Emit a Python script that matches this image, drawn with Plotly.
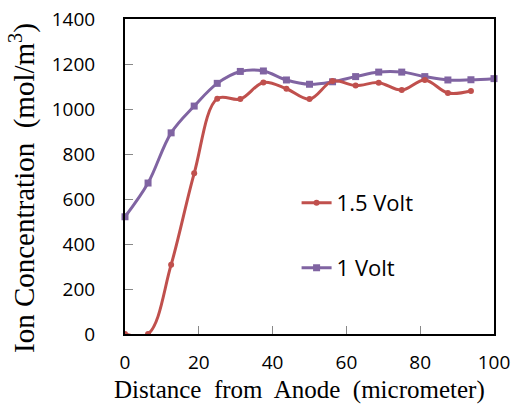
import plotly.graph_objects as go

# Data
x_1v = [0, 6.25, 12.5, 18.75, 25, 31.25, 37.5, 43.75, 50, 56.25, 62.5, 68.75, 75, 81.25, 87.5, 93.75, 100]
y_1v = [521, 671, 894, 1013, 1114, 1167, 1169, 1129, 1110, 1121, 1144, 1164, 1164, 1144, 1129, 1130, 1135]

x_15v = [0, 6.25, 12.5, 18.75, 25, 31.25, 37.5, 43.75, 50, 56.25, 62.5, 68.75, 75, 81.25, 87.5, 93.75]
y_15v = [0, 0, 308, 714, 1046, 1044, 1118, 1090, 1044, 1124, 1104, 1117, 1084, 1129, 1071, 1080]

x_ticks = [0, 20, 40, 60, 80, 100]
y_ticks = [0, 200, 400, 600, 800, 1000, 1200, 1400]

RED = "#C0504D"
PURPLE = "#8064A2"

fig = go.Figure()
fig.add_trace(go.Scatter(
    x=x_1v, y=y_1v, name="1 Volt", mode="lines+markers",
    line=dict(color=PURPLE, width=3, shape="spline", smoothing=1),
    marker=dict(symbol="square", size=7, color=PURPLE),
    legend="legend2", cliponaxis=False,
))
fig.add_trace(go.Scatter(
    x=x_15v, y=y_15v, name="1.5 Volt", mode="lines+markers",
    line=dict(color=RED, width=3, shape="spline", smoothing=1),
    marker=dict(symbol="circle", size=6, color=RED),
    legend="legend", cliponaxis=True,
))

tickfont = dict(family="Open Sans", size=19, color="#000")
legfont = dict(family="Open Sans", size=22, color="#000")
xtitlefont = dict(family="Liberation Serif", size=25, color="#000")
ytitlefont = dict(family="Liberation Serif", size=29, color="#000")

fig.update_layout(
    width=517, height=405,
    margin=dict(l=125, r=23, t=19, b=71),
    paper_bgcolor="white", plot_bgcolor="white",
    showlegend=True,
    legend=dict(x=0.465, y=0.416, xanchor="left", yanchor="middle",
                font=legfont, bgcolor="rgba(0,0,0,0)"),
    legend2=dict(x=0.465, y=0.2095, xanchor="left", yanchor="middle",
                 font=legfont, bgcolor="rgba(0,0,0,0)"),
    xaxis=dict(range=[0, 100], tickvals=x_ticks, ticktext=[str(v) for v in x_ticks],
               ticks="inside", ticklen=8, tickcolor="#888", tickwidth=1,
               showline=True, linecolor="#000", linewidth=2, mirror=True,
               showgrid=False, zeroline=False, tickfont=tickfont,
               ticklabelstandoff=10, automargin=False),
    yaxis=dict(range=[0, 1400], tickvals=y_ticks, ticktext=[str(v) for v in y_ticks],
               ticks="inside", ticklen=8, tickcolor="#888", tickwidth=1,
               showline=True, linecolor="#000", linewidth=2, mirror=True,
               showgrid=False, zeroline=False, tickfont=tickfont,
               ticklabelstandoff=24, automargin=False),
    annotations=[
        dict(text="Distance  from  Anode  (micrometer)", xref="paper", yref="paper",
             x=0.474, y=-0.178, xanchor="center", yanchor="middle",
             showarrow=False, font=xtitlefont),
        dict(text="Ion Concentration  (mol/m<sup>3</sup>)", xref="paper", yref="paper",
             x=-0.2764, y=0.4635, xanchor="center", yanchor="middle",
             showarrow=False, textangle=-90, font=ytitlefont),
    ],
)

fig.write_html("out.html", config={"displayModeBar": False},
               post_script="document.body.style.margin='0';document.body.style.overflow='hidden';")
